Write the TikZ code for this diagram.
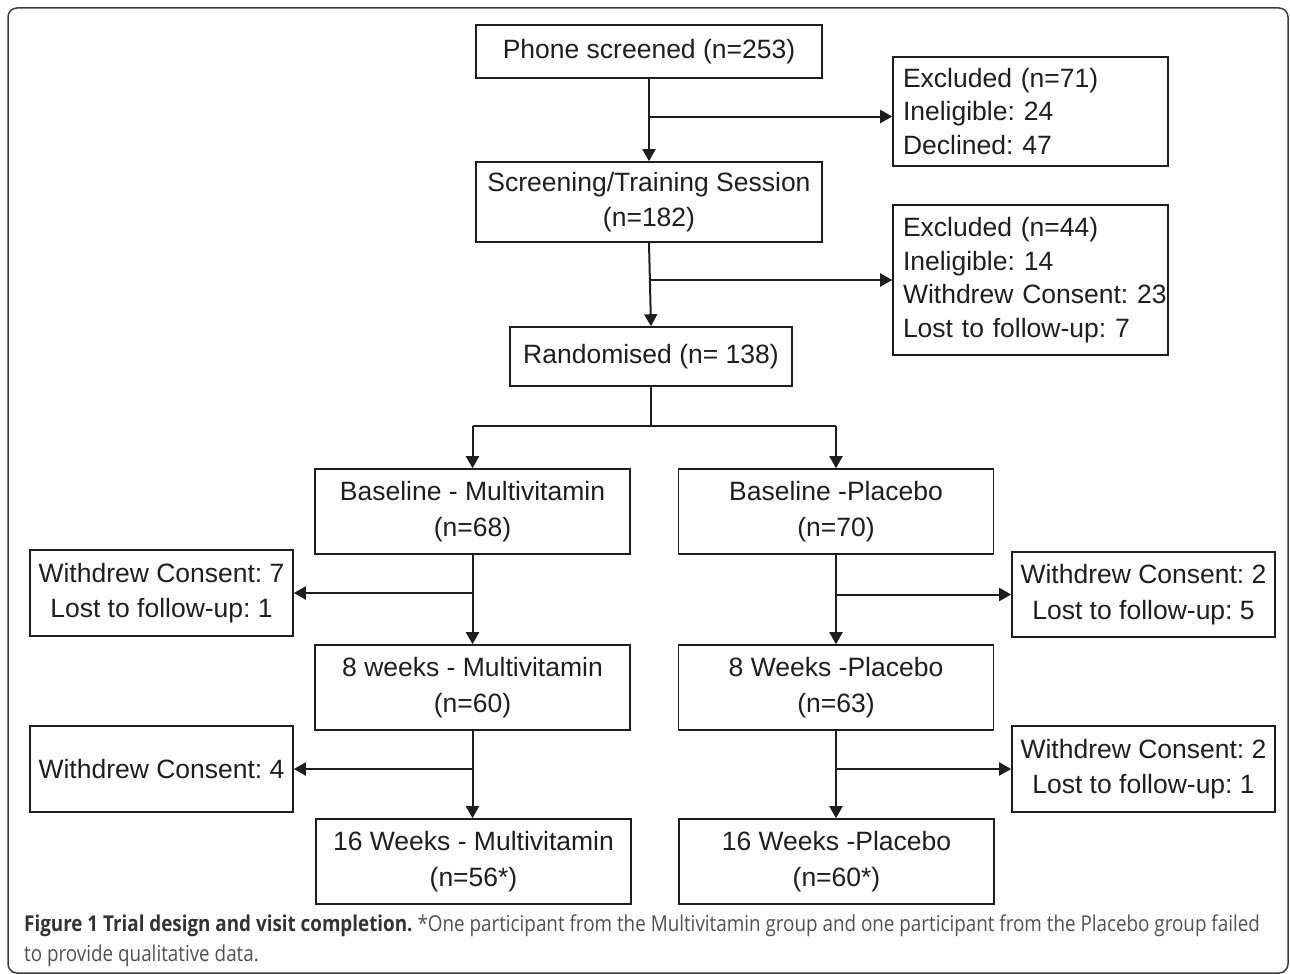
\documentclass[tikz,border=0pt]{standalone}
\usepackage{fontspec}
\setmainfont{Liberation Sans}
\newfontfamily\capfont[FakeStretch=0.86]{Open Sans}
\usetikzlibrary{arrows.meta}
\frenchspacing

\definecolor{ink}{HTML}{1E1E1E}
\definecolor{framegray}{HTML}{3C3C3C}
\definecolor{capdark}{HTML}{333333}
\definecolor{caplight}{HTML}{505050}

\tikzset{
    stagebox/.style={draw=ink, line width=1.6pt, inner sep=0pt, align=center,
                     text=ink, font=\fontsize{26.5}{35.5}\selectfont},
    listbox/.style={stagebox, align=left, text width=255pt, font=\fontsize{26.5}{33.5}\selectfont},
    line/.style={draw=ink, line width=2pt},
    arr/.style={line, -{Triangle[length=12pt, width=13pt]}}
}

\begin{document}
\begin{tikzpicture}[x=1pt, y=-1pt]
            \useasboundingbox (0,0) rectangle (1290,974);
            \draw[framegray, line width=1.5pt, rounded corners=9pt] (8,8) rectangle (1288,973);

            % top column
            \node[stagebox, minimum width=346pt, minimum height=53pt] (phone) at (649,51.5) {Phone screened (n=253)};
            \node[listbox, minimum width=275pt, minimum height=109pt] (excl1) at (1030.5,111.5) {Excluded (n=71)\\Ineligible: 24\\Declined: 47};
            \node[stagebox, minimum width=346pt, minimum height=80pt] (screen) at (649,202) {Screening/Training Session\\(n=182)};
            \node[listbox, minimum width=275pt, minimum height=150pt] (excl2) at (1030.5,280) {Excluded (n=44)\\Ineligible: 14\\\mbox{Withdrew Consent: 23}\\Lost to follow-up: 7};
            \node[stagebox, minimum width=282pt, minimum height=59pt] (rand) at (651,356.5) {Randomised (n= 138)};
            \coordinate (split) at (651,426);

            % two arms
            \node[stagebox, minimum width=315pt, minimum height=85pt] (baseM) at (472.5,511.5) {Baseline - Multivitamin\\(n=68)};
            \node[stagebox, minimum width=315pt, minimum height=85pt] (baseP) at (836,511.5) {Baseline -Placebo\\(n=70)};
            \node[stagebox, minimum width=263pt, minimum height=86pt] (lossM1) at (161.5,593) {Withdrew Consent: 7\\Lost to follow-up: 1};
            \node[stagebox, minimum width=263pt, minimum height=85pt] (lossP1) at (1143.5,594.5) {Withdrew Consent: 2\\Lost to follow-up: 5};
            \node[stagebox, minimum width=315pt, minimum height=85pt] (wk8M) at (472.5,687.5) {8 weeks - Multivitamin\\(n=60)};
            \node[stagebox, minimum width=315pt, minimum height=85pt] (wk8P) at (836,687.5) {8 Weeks -Placebo\\(n=63)};
            \node[stagebox, minimum width=263pt, minimum height=86pt] (lossM2) at (161.5,769) {Withdrew Consent: 4};
            \node[stagebox, minimum width=263pt, minimum height=86pt] (lossP2) at (1143.5,769) {Withdrew Consent: 2\\Lost to follow-up: 1};
            \node[stagebox, minimum width=315pt, minimum height=85pt] (wk16M) at (473.5,861.5) {16 Weeks - Multivitamin\\(n=56*)};
            \node[stagebox, minimum width=315pt, minimum height=85pt] (wk16P) at (836.5,861.5) {16 Weeks -Placebo\\(n=60*)};

            % connectors
            \draw[arr] (phone.south) -- (screen.north);
            \draw[arr] ([yshift=-5pt]excl1.west -| phone.south) -- ([yshift=-5pt]excl1.west);
            \draw[arr] (screen.south) -- (rand.north);
            \draw[arr] (screen.south |- excl2.west) -- (excl2.west);
            \draw[line] (rand.south) -- (split);
            \draw[line] (baseM.north |- split) -- (baseP.north |- split);
            \draw[arr] (baseM.north |- split) -- (baseM.north);
            \draw[arr] (baseP.north |- split) -- (baseP.north);

            \draw[arr] (baseM.south) -- (wk8M.north);
            \draw[arr] (baseM.south |- lossM1.east) -- (lossM1.east);
            \draw[arr] (wk8M.south) -- (wk8M.south |- wk16M.north);
            \draw[arr] (wk8M.south |- lossM2.east) -- (lossM2.east);
            \draw[arr] (baseP.south) -- (wk8P.north);
            \draw[arr] (baseP.south |- lossP1.west) -- (lossP1.west);
            \draw[arr] (wk8P.south) -- (wk8P.south |- wk16P.north);
            \draw[arr] (wk8P.south |- lossP2.west) -- (lossP2.west);

            % caption
            \node[anchor=base west, align=left, inner sep=0pt, text=caplight,
                  font=\capfont\fontsize{21.9}{30}\selectfont] (caption) at (24,961)
                {\textcolor{capdark}{\bfseries Figure 1 Trial design and visit completion.} *One participant from the Multivitamin group and one participant from the Placebo group failed\\to provide qualitative data.};
        \end{tikzpicture}
\end{document}
